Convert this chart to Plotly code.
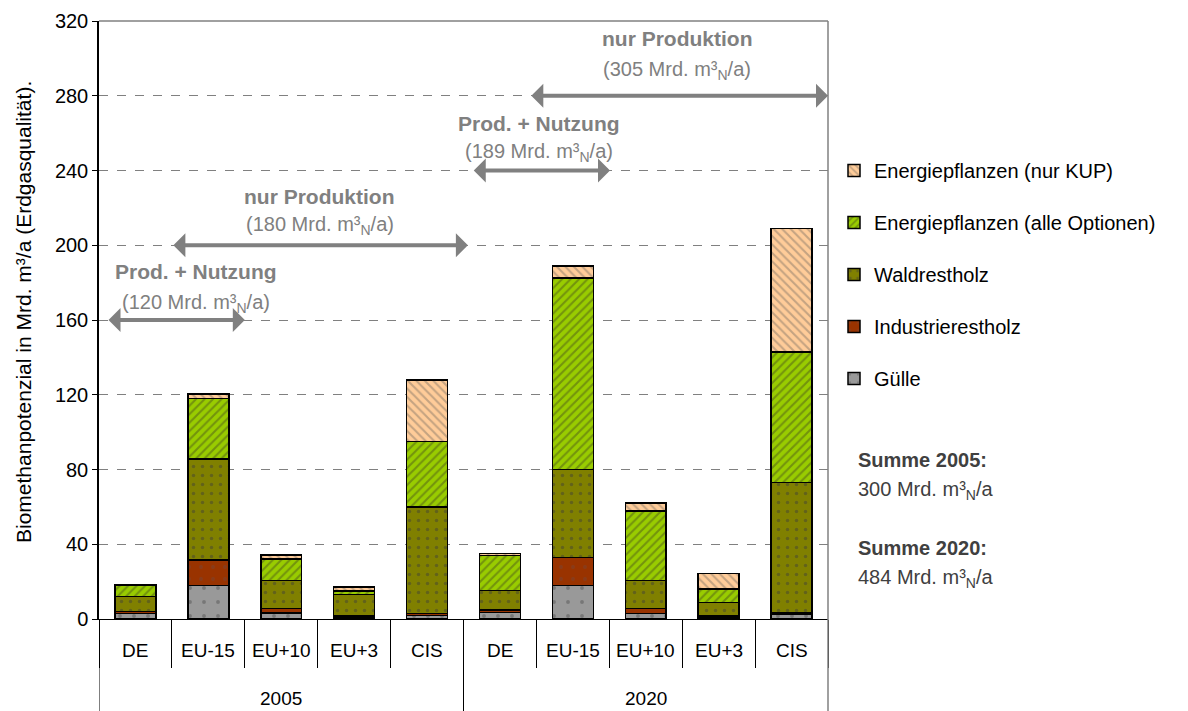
import plotly.graph_objects as go

years = ["2005"] * 5 + ["2020"] * 5
regions = ["DE", "EU-15", "EU+10", "EU+3", "CIS"] * 2
year_labels = ["2005", "2020"]

guelle = [3.0, 18.0, 3.3, 1.0, 2.0, 3.4, 18.0, 3.0, 1.0, 2.5]
industrie = [1.0, 13.5, 2.3, 1.0, 1.0, 1.4, 15.0, 2.5, 1.0, 0.8]
wald = [8.0, 54.0, 15.0, 11.0, 57.0, 10.4, 47.0, 15.0, 6.7, 69.7]
energie_alle = [6.0, 32.5, 11.5, 2.0, 35.0, 18.7, 102.5, 37.3, 7.3, 70.0]
energie_kup = [0.3, 2.5, 2.2, 2.2, 33.0, 1.2, 6.3, 4.4, 8.4, 66.0]

FONT = "Liberation Sans"
GREY = "#808080"
FS = 20

# name, values, colour, pattern, pattern colour, pattern size, solidity, legend rank
series = [
    ("Gülle", guelle, "#999999", ".", "#555555", 14, 0.06, 5),
    ("Industrierestholz", industrie, "#993300", ".", "#774433", 12, 0.08, 4),
    ("Waldrestholz", wald, "#808000", ".", "#444433", 9, 0.12, 3),
    ("Energiepflanzen (alle Optionen)", energie_alle, "#99CC00", "/", "#4d5a1a", 6, 0.35, 2),
    ("Energiepflanzen (nur KUP)", energie_kup, "#FFCC99", "\\", "#8a7a6a", 6, 0.35, 1),
]

fig = go.Figure()
for name, vals, col, shape, fg, size, sol, rank in series:
    fig.add_trace(
        go.Bar(
            x=[years, regions],
            y=vals,
            name=name,
            legendgroup=name,
            legendrank=rank,
            marker=dict(
                color=col,
                line=dict(color="black", width=1.5),
                pattern=dict(shape=shape, bgcolor=col, fgcolor=fg, size=size, solidity=sol),
            ),
        )
    )

# the page adds an 8px body margin, so the figure is 8px smaller than the window
W, H = 1180, 703
L, R, T, B = 91, 360, 13, 92
pw, ph = W - L - R, H - T - B
OFF = 8


def px_x(p):
    # screen pixel -> paper x
    return (p - OFF - L) / pw


def px_y(p):
    # screen pixel -> paper y
    return (H - B - (p - OFF)) / ph


# double-headed arrows with labels (x in category index units)
arrows = [
    (-0.39, 1.50, 160, "Prod. + Nutzung", "(120 Mrd. m³<sub>N</sub>/a)", 0.83, 185.7, 169.0),
    (0.50, 4.56, 200, "nur Produktion", "(180 Mrd. m³<sub>N</sub>/a)", 2.53, 226.3, 210.8),
    (4.62, 6.51, 240, "Prod. + Nutzung", "(189 Mrd. m³<sub>N</sub>/a)", 5.54, 265.4, 249.9),
    (5.41, 9.50, 280, "nur Produktion", "(305 Mrd. m³<sub>N</sub>/a)", 7.43, 310.8, 293.7),
]
for x0, x1, y, head, sub, xc, yh, ys in arrows:
    fig.add_annotation(
        x=x1, y=y, ax=x0, ay=y, xref="x", yref="y", axref="x", ayref="y",
        text="", showarrow=True, arrowhead=1, startarrowhead=1, arrowside="end+start",
        arrowsize=1, startarrowsize=1, arrowwidth=4, arrowcolor=GREY,
    )
    fig.add_annotation(x=xc, y=yh, xref="x", yref="y", text="<b>" + head + "</b>",
                       showarrow=False, font=dict(family=FONT, size=21, color=GREY))
    fig.add_annotation(x=xc, y=ys, xref="x", yref="y", text=sub,
                       showarrow=False, font=dict(family=FONT, size=FS, color=GREY))

# category labels (two levels)
for i, reg in enumerate(regions):
    fig.add_annotation(x=i, y=px_y(650), xref="x", yref="paper", text=reg, showarrow=False,
                       yanchor="middle", font=dict(family=FONT, size=19, color="black"))
for j, yr in enumerate(year_labels):
    fig.add_annotation(x=2 + 5 * j, y=px_y(698), xref="x", yref="paper", text=yr, showarrow=False,
                       yanchor="middle", font=dict(family=FONT, size=19, color="black"))

# group dividers of the category box
for xb in [-0.5, 4.5]:
    fig.add_shape(type="line", xref="x", yref="paper", x0=xb, x1=xb, y0=0, y1=-B / ph,
                  line=dict(color="black", width=1))

# y-axis title
fig.add_annotation(x=px_x(23), y=px_y(312), xref="paper", yref="paper", textangle=-90,
                   xanchor="center", yanchor="middle",
                   text="Biomethanpotenzial in Mrd. m³/a (Erdgasqualität).", showarrow=False,
                   font=dict(family=FONT, size=21, color="black"))

sums = [("Summe 2005:", "300 Mrd. m³<sub>N</sub>/a", 460), ("Summe 2020:", "484 Mrd. m³<sub>N</sub>/a", 548)]
for head, sub, ypx in sums:
    fig.add_annotation(x=px_x(856), y=px_y(ypx), xref="paper", yref="paper", text="<b>" + head + "</b>",
                       showarrow=False, xanchor="left", yanchor="middle",
                       font=dict(family=FONT, size=FS, color="#404040"))
    fig.add_annotation(x=px_x(856), y=px_y(ypx + 30), xref="paper", yref="paper", text=sub,
                       showarrow=False, xanchor="left", yanchor="middle",
                       font=dict(family=FONT, size=FS, color="#404040"))

# top and right frame lines
fig.add_shape(type="line", xref="paper", yref="paper", x0=0, x1=1, y0=1, y1=1,
              line=dict(color=GREY, width=1.5))
fig.add_shape(type="line", xref="paper", yref="paper", x0=1, x1=1, y0=1, y1=-B / ph,
              line=dict(color=GREY, width=1.5))

fig.update_layout(
    width=W, height=H,
    margin=dict(l=L, r=R, t=T, b=B),
    paper_bgcolor="white", plot_bgcolor="white",
    barmode="stack", bargap=0.44,
    font=dict(family=FONT, size=FS, color="black"),
    legend=dict(
        x=px_x(834), y=px_y(151), xanchor="left", yanchor="top",
        traceorder="grouped", tracegroupgap=23,
        font=dict(family=FONT, size=FS, color="black"),
    ),
)
fig.update_xaxes(
    type="multicategory", range=[-0.5, 9.5], automargin=False,
    showline=True, linecolor="black", linewidth=1,
    showticklabels=False, showdividers=False,
    ticks="outside", tickson="boundaries", ticklen=48, tickcolor="black",
)
fig.update_yaxes(
    range=[0, 320], dtick=40, automargin=False, showline=True, linecolor="black", linewidth=1.5,
    ticks="outside", ticklen=5, tickcolor="black",
    showgrid=True, gridcolor=GREY, griddash="dash", gridwidth=1,
    tickfont=dict(family=FONT, size=FS, color="black"),
)

fig.write_html("out.html")
